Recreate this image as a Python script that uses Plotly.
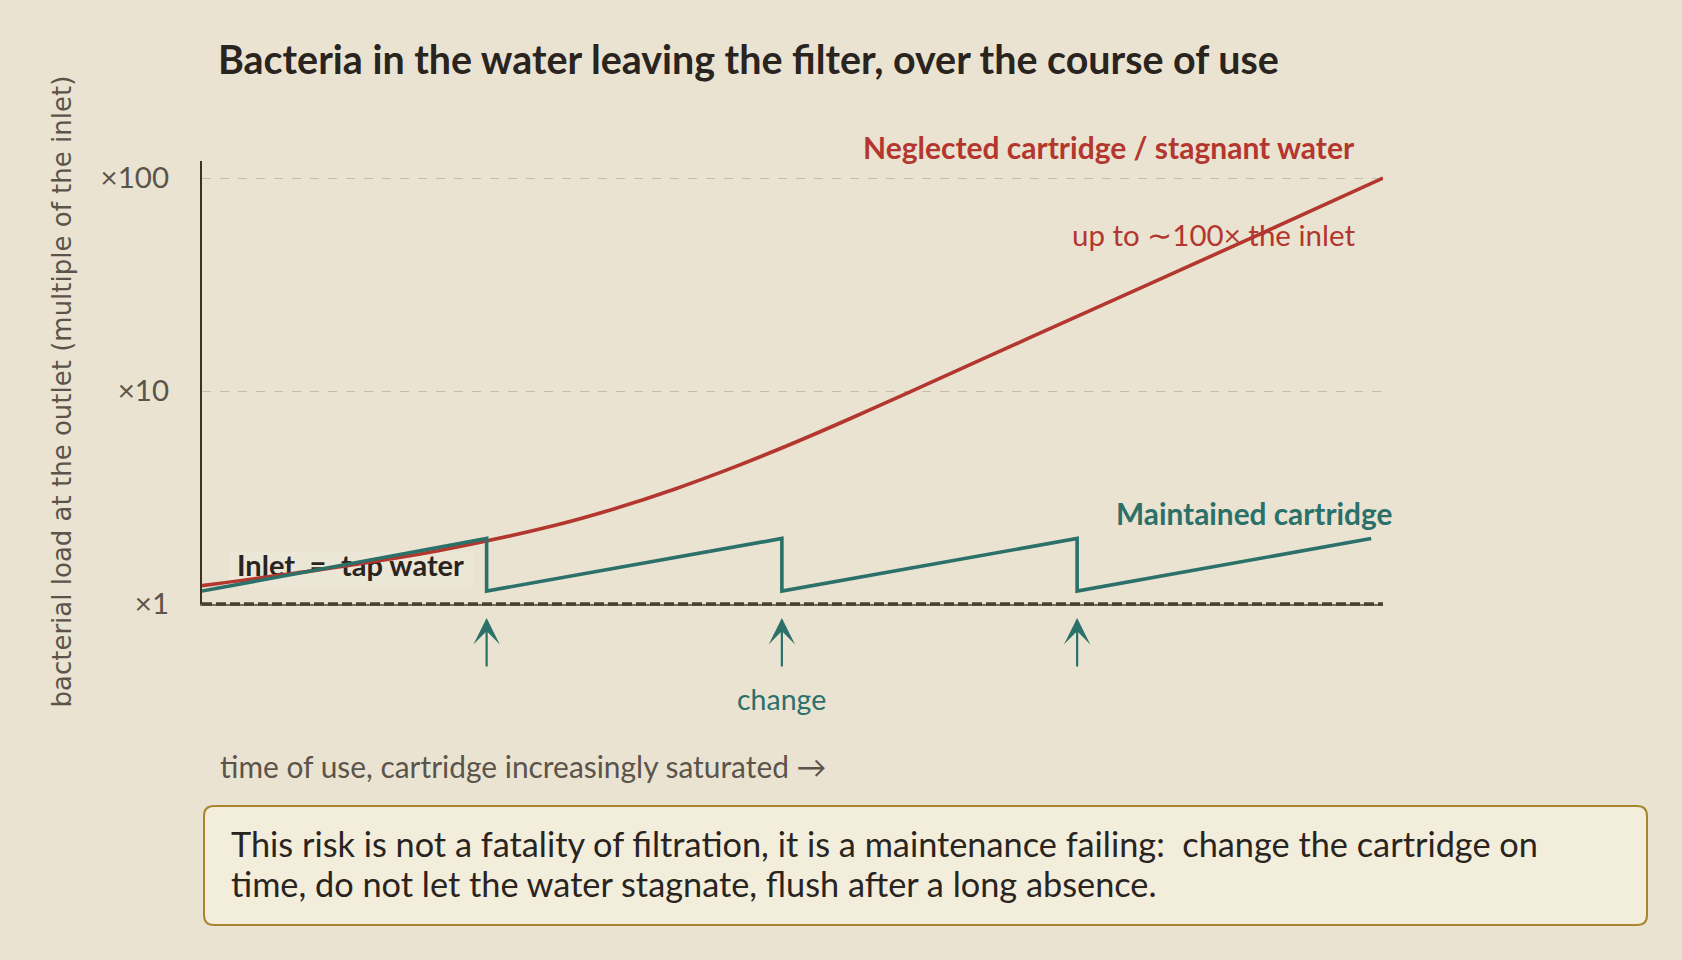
import plotly.graph_objects as go

# ---- data ----
time_neglected = [0, 10, 20, 30, 35, 40, 45, 50, 55, 60, 70, 80, 90, 100]
load_neglected = [1.22, 1.45, 1.78, 2.35, 2.81, 3.46, 4.38, 5.67, 7.47, 9.94, 17.7, 31.4, 55.9, 100]

time_maintained = [0, 24.1, 24.1, 49.1, 49.1, 74.1, 74.1, 99]
load_maintained = [1.15, 2.03, 1.15, 2.03, 1.15, 2.03, 1.15, 2.03]

change_times = [24.1, 49.1, 74.1]

tick_values = [1, 10, 100]
tick_labels = ["×1", "×10", "×100"]

# ---- style ----
BG = "#EAE3D2"
RED = "#B3372E"
TEAL = "#2B7069"
DARK = "#2A241F"
GRAY = "#5C544A"
GRID = "#C6BCAA"
FONT = "Lato"

W, H = 1682, 960
L, R, T, B = 202, 299, 161, 356
PW = W - L - R
PH = H - T - B


def px(xp):
    return (xp - L) / PW


def py(yp):
    return (H - B - yp) / PH


fig = go.Figure()

# label drawn under the curves
fig.add_trace(go.Scatter(
    x=[12.57], y=[1.468], mode="text", text=["<b>Inlet\u2002=\u2002tap water</b>"],
    textposition="middle center", textfont=dict(family=FONT, size=29, color=DARK),
    hoverinfo="skip", showlegend=False, cliponaxis=False))

fig.add_trace(go.Scatter(
    x=time_neglected, y=load_neglected, mode="lines",
    line=dict(color=RED, width=3.6, shape="spline", smoothing=1.0),
    showlegend=False, hoverinfo="skip"))

fig.add_trace(go.Scatter(
    x=time_maintained, y=load_maintained, mode="lines",
    line=dict(color=TEAL, width=3.6),
    showlegend=False, hoverinfo="skip"))

shapes = []
# baseline (inlet level)
shapes.append(dict(type="line", xref="paper", yref="paper", x0=0, x1=1, y0=0, y1=0,
                   line=dict(color="#4A4036", width=3.5, dash="10px,4px"), layer="above"))
# inlet label background
shapes.append(dict(type="rect", xref="paper", yref="paper",
                   x0=px(229), x1=px(474), y0=py(587), y1=py(551),
                   fillcolor="#ECE6D7", line=dict(width=0), layer="below"))
# note box with rounded corners
x0, x1, y0, y1 = px(204), px(1647), py(925), py(806)
rx, ry = 10 / PW, 10 / PH
path = (f"M{x0+rx},{y1} L{x1-rx},{y1} Q{x1},{y1} {x1},{y1-ry} "
        f"L{x1},{y0+ry} Q{x1},{y0} {x1-rx},{y0} L{x0+rx},{y0} Q{x0},{y0} {x0},{y0+ry} "
        f"L{x0},{y1-ry} Q{x0},{y1} {x0+rx},{y1} Z")
shapes.append(dict(type="path", xref="paper", yref="paper", path=path,
                   fillcolor="#F3EDDC", line=dict(color="#A8852F", width=2), layer="above"))

ann = []
ann.append(dict(text="<b>Neglected cartridge / stagnant water</b>", xref="paper", yref="paper",
                x=px(1357), y=py(147), xanchor="right", yanchor="middle", showarrow=False,
                font=dict(family=FONT, size=30, color=RED)))
ann.append(dict(text="up to ∼100× the inlet", xref="paper", yref="paper",
                x=px(1357), y=py(234), xanchor="right", yanchor="middle", showarrow=False,
                font=dict(family=FONT, size=29.5, color=RED)))
ann.append(dict(text="<b>Maintained cartridge</b>", xref="paper", yref="paper",
                x=px(1254), y=py(513), xanchor="center", yanchor="middle", showarrow=False,
                font=dict(family=FONT, size=29.8, color=TEAL)))
for t in change_times:
    ann.append(dict(text="", x=t, xref="x", y=py(618), yref="paper", showarrow=True,
                    ax=0, ay=50, arrowhead=3, arrowsize=2.0, arrowwidth=2.2,
                    arrowcolor=TEAL, standoff=0, startstandoff=0))
ann.append(dict(text="change", x=change_times[1], xref="x", y=py(699), yref="paper",
                xanchor="center", yanchor="middle", showarrow=False,
                font=dict(family=FONT, size=28.5, color=TEAL)))
ann.append(dict(text="time of use, cartridge increasingly saturated →", xref="paper", yref="paper",
                x=px(218), y=py(766), xanchor="left", yanchor="middle", showarrow=False,
                font=dict(family=FONT, size=29.9, color=GRAY)))
ann.append(dict(text="bacterial load at the outlet (multiple of the inlet)", xref="paper", yref="paper",
                x=px(61), y=py(391.5), xanchor="center", yanchor="middle", textangle=-90,
                showarrow=False, font=dict(family="DejaVu Sans", size=26, color=GRAY)))
ann.append(dict(text="This risk is not a fatality of filtration, it is a maintenance failing:  change the cartridge on",
                xref="paper", yref="paper", x=px(229), y=py(843), xanchor="left", yanchor="middle",
                showarrow=False, font=dict(family=FONT, size=34.3, color=DARK)))
ann.append(dict(text="time, do not let the water stagnate, flush after a long absence.",
                xref="paper", yref="paper", x=px(229), y=py(883), xanchor="left", yanchor="middle",
                showarrow=False, font=dict(family=FONT, size=34.3, color=DARK)))

fig.update_layout(
    width=W, height=H,
    margin=dict(l=L, r=R, t=T, b=B, pad=0),
    paper_bgcolor=BG, plot_bgcolor=BG,
    title=dict(text="<b>Bacteria in the water leaving the filter, over the course of use</b>",
               xref="container", yref="container", x=218 / W, y=1 - 60 / H,
               xanchor="left", yanchor="middle",
               font=dict(family=FONT, size=39.4, color=DARK)),
    shapes=shapes, annotations=ann,
    showlegend=False,
)
fig.update_xaxes(range=[0, 100], showgrid=False, zeroline=False, showticklabels=False,
                 ticks="", showline=True, linecolor="#7A6B5A", linewidth=2)
fig.update_yaxes(type="log", range=[0, 2.08], tickvals=tick_values, ticktext=tick_labels,
                 showgrid=True, gridcolor=GRID, gridwidth=1.2, griddash="dash",
                 zeroline=False, showline=True, linecolor="#3A3129", linewidth=2.2,
                 ticks="", ticklabelstandoff=25,
                 tickfont=dict(family=FONT, size=29.5, color=GRAY))

fig.write_html("out.html")
